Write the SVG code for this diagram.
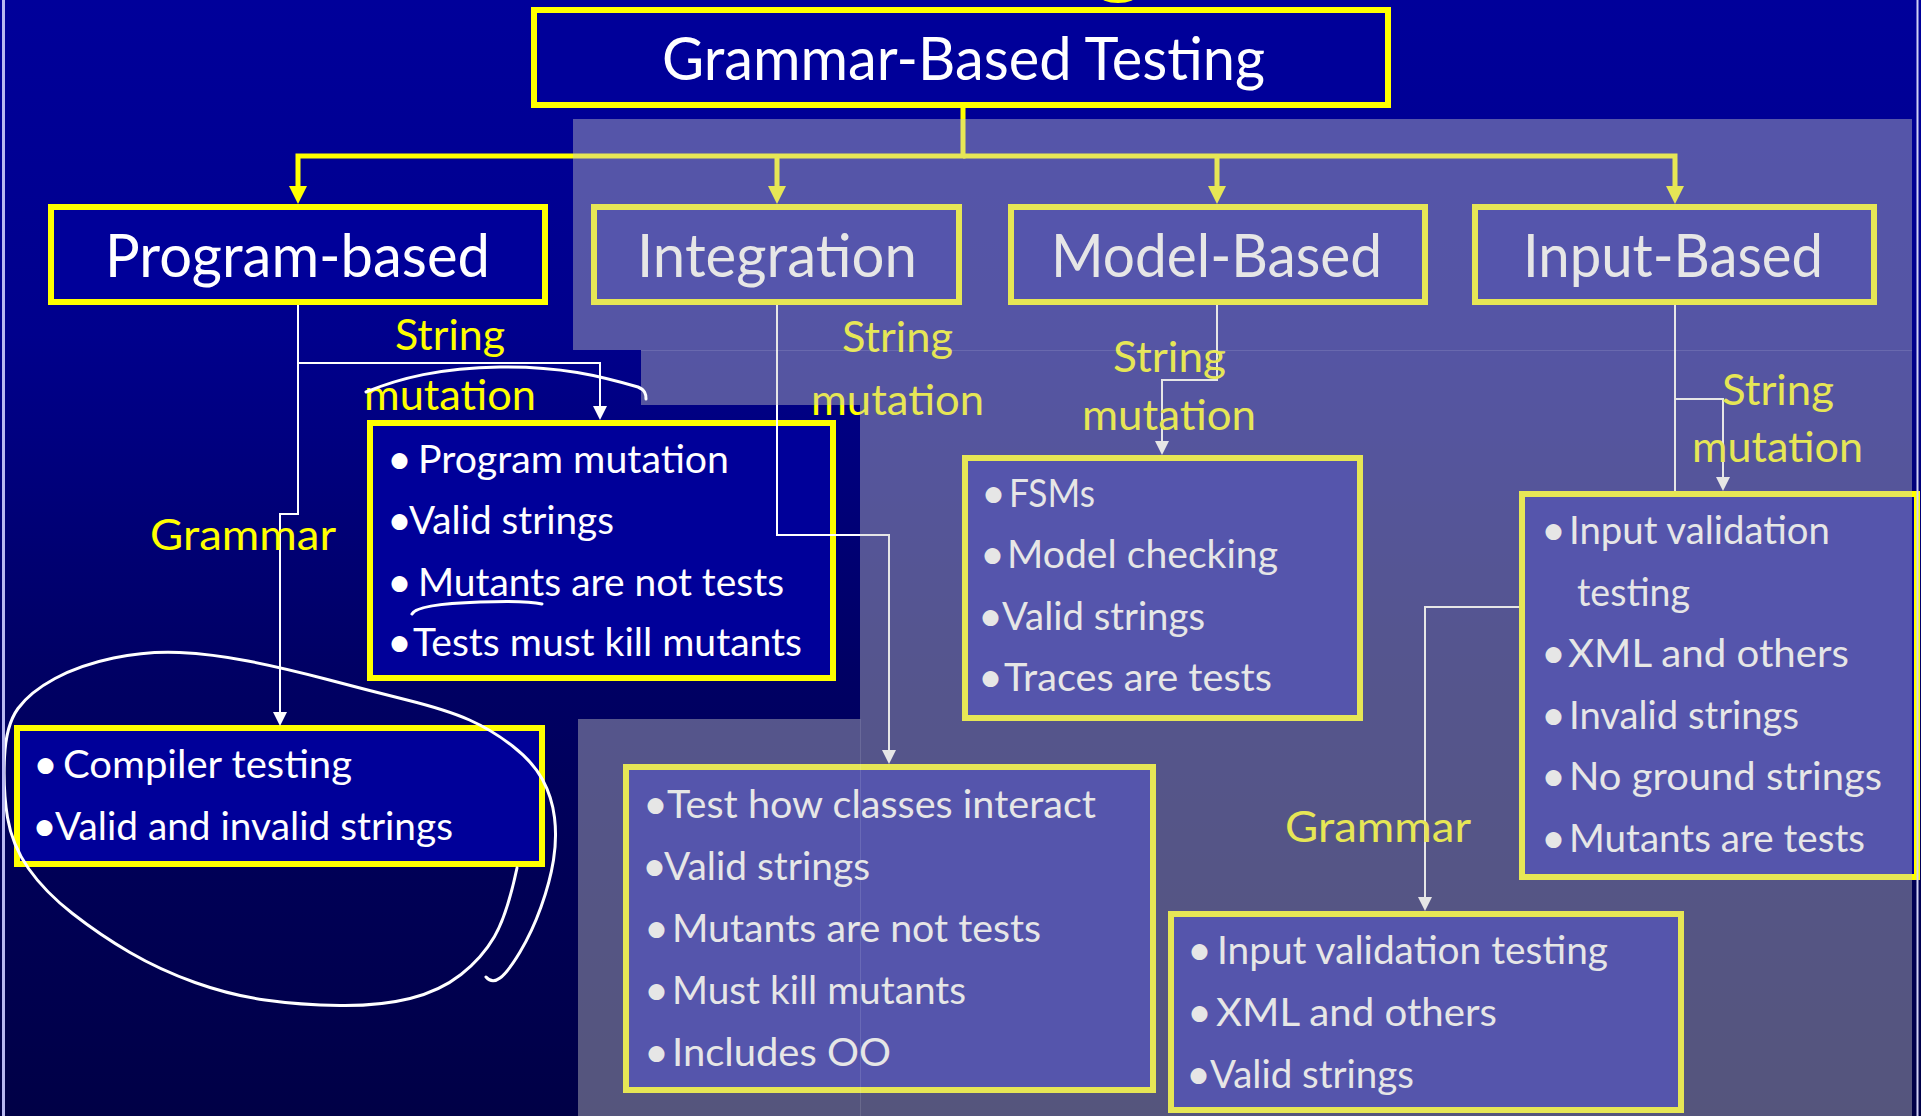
<svg xmlns="http://www.w3.org/2000/svg" width="1921" height="1116" viewBox="0 0 1921 1116">
<defs>
<linearGradient id="bgGrad" x1="0" y1="0" x2="0" y2="1">
<stop offset="0" stop-color="#00009A"/>
<stop offset="0.3" stop-color="#00008C"/>
<stop offset="0.6" stop-color="#000064"/>
<stop offset="1" stop-color="#000046"/>
</linearGradient>
<marker id="ya" viewBox="0 0 18 18" markerWidth="18" markerHeight="18" refX="8" refY="9" orient="auto" markerUnits="userSpaceOnUse">
<path d="M0,0 L18,9 L0,18 z" fill="#FFFF00"/>
</marker>
<marker id="wa" viewBox="0 0 14 14" markerWidth="14" markerHeight="14" refX="6" refY="7" orient="auto" markerUnits="userSpaceOnUse">
<path d="M0,0 L14,7 L0,14 z" fill="#FFFFFF"/>
</marker>
</defs>
<style>
text{font-family:Lato,"Open Sans","Noto Sans",sans-serif;}
.box{fill:#000099;stroke:#FFFF00;stroke-width:6;}
.head{font-size:60px;fill:#FFFFFF;}
.tb{font-size:39px;fill:#FFFFFF;}
.bul{font-size:43px;}
.lbl{font-size:42px;fill:#FFFF00;}
.wire{stroke:#FFFFFF;stroke-width:2;fill:none;}
.ywire{stroke:#FFFF00;stroke-width:5;fill:none;}
.ink{stroke:#FFFFFF;stroke-width:3;fill:none;stroke-linecap:round;stroke-linejoin:round;}
</style>

<rect x="0" y="0" width="1921" height="1116" fill="url(#bgGrad)"/>
<ellipse cx="1118" cy="-5" rx="19" ry="8" fill="#FFFF00"/>

<g id="node-title">
<rect class="box" x="534" y="10" width="854" height="95"/>
<text class="head" x="662" y="80" textLength="603" lengthAdjust="spacingAndGlyphs">Grammar-Based Testing</text>
</g>

<g id="node-program-based">
<rect class="box" x="51" y="207" width="494" height="95"/>
<text class="head" x="105" y="277" textLength="385" lengthAdjust="spacingAndGlyphs">Program-based</text>
</g>

<g id="node-integration">
<rect class="box" x="594" y="207" width="365" height="95"/>
<text class="head" x="637" y="277" textLength="280" lengthAdjust="spacingAndGlyphs">Integration</text>
</g>

<g id="node-model-based">
<rect class="box" x="1011" y="207" width="414" height="95"/>
<text class="head" x="1051" y="277" textLength="331" lengthAdjust="spacingAndGlyphs">Model-Based</text>
</g>

<g id="node-input-based">
<rect class="box" x="1475" y="207" width="399" height="95"/>
<text class="head" x="1523" y="277" textLength="300" lengthAdjust="spacingAndGlyphs">Input-Based</text>
</g>

<g id="node-program-list">
<rect class="box" x="370" y="423" width="463" height="255"/>
<text class="tb" y="473"><tspan class="bul" x="387" dy="1">•</tspan><tspan x="418" dy="-1" textLength="311" lengthAdjust="spacingAndGlyphs">Program mutation</tspan></text>
<text class="tb" y="534"><tspan class="bul" x="387" dy="1">•</tspan><tspan x="409" dy="-1" textLength="205" lengthAdjust="spacingAndGlyphs">Valid strings</tspan></text>
<text class="tb" y="596"><tspan class="bul" x="387" dy="1">•</tspan><tspan x="418" dy="-1" textLength="366" lengthAdjust="spacingAndGlyphs">Mutants are not tests</tspan></text>
<text class="tb" y="656"><tspan class="bul" x="387" dy="1">•</tspan><tspan x="413" dy="-1" textLength="389" lengthAdjust="spacingAndGlyphs">Tests must kill mutants</tspan></text>
</g>

<g id="node-compiler-list">
<rect class="box" x="17" y="728" width="525" height="136"/>
<text class="tb" y="778"><tspan class="bul" x="33" dy="1">•</tspan><tspan x="63" dy="-1" textLength="289" lengthAdjust="spacingAndGlyphs">Compiler testing</tspan></text>
<text class="tb" y="840"><tspan class="bul" x="32" dy="1">•</tspan><tspan x="55" dy="-1" textLength="398" lengthAdjust="spacingAndGlyphs">Valid and invalid strings</tspan></text>
</g>

<g id="node-integration-list">
<rect class="box" x="626" y="767" width="527" height="323"/>
<text class="tb" y="818"><tspan class="bul" x="643" dy="1">•</tspan><tspan x="667" dy="-1" textLength="429" lengthAdjust="spacingAndGlyphs">Test how classes interact</tspan></text>
<text class="tb" y="880"><tspan class="bul" x="642" dy="1">•</tspan><tspan x="664" dy="-1" textLength="206" lengthAdjust="spacingAndGlyphs">Valid strings</tspan></text>
<text class="tb" y="942"><tspan class="bul" x="644" dy="1">•</tspan><tspan x="672" dy="-1" textLength="369" lengthAdjust="spacingAndGlyphs">Mutants are not tests</tspan></text>
<text class="tb" y="1004"><tspan class="bul" x="644" dy="1">•</tspan><tspan x="672" dy="-1" textLength="294" lengthAdjust="spacingAndGlyphs">Must kill mutants</tspan></text>
<text class="tb" y="1066"><tspan class="bul" x="644" dy="1">•</tspan><tspan x="672" dy="-1" textLength="219" lengthAdjust="spacingAndGlyphs">Includes OO</tspan></text>
</g>

<g id="node-model-list">
<rect class="box" x="965" y="458" width="395" height="260"/>
<text class="tb" y="507"><tspan class="bul" x="981" dy="1">•</tspan><tspan x="1009" dy="-1" textLength="86" lengthAdjust="spacingAndGlyphs">FSMs</tspan></text>
<text class="tb" y="568"><tspan class="bul" x="980" dy="1">•</tspan><tspan x="1007" dy="-1" textLength="271" lengthAdjust="spacingAndGlyphs">Model checking</tspan></text>
<text class="tb" y="630"><tspan class="bul" x="978" dy="1">•</tspan><tspan x="1002" dy="-1" textLength="203" lengthAdjust="spacingAndGlyphs">Valid strings</tspan></text>
<text class="tb" y="691"><tspan class="bul" x="978" dy="1">•</tspan><tspan x="1004" dy="-1" textLength="268" lengthAdjust="spacingAndGlyphs">Traces are tests</tspan></text>
</g>

<g id="node-input-list">
<rect class="box" x="1522" y="494" width="395" height="383"/>
<text class="tb" y="544"><tspan class="bul" x="1541" dy="1">•</tspan><tspan x="1569" dy="-1" textLength="261" lengthAdjust="spacingAndGlyphs">Input validation</tspan></text>
<text class="tb" y="606"><tspan x="1577" textLength="113" lengthAdjust="spacingAndGlyphs">testing</tspan></text>
<text class="tb" y="667"><tspan class="bul" x="1541" dy="1">•</tspan><tspan x="1568" dy="-1" textLength="281" lengthAdjust="spacingAndGlyphs">XML and others</tspan></text>
<text class="tb" y="729"><tspan class="bul" x="1541" dy="1">•</tspan><tspan x="1569" dy="-1" textLength="230" lengthAdjust="spacingAndGlyphs">Invalid strings</tspan></text>
<text class="tb" y="790"><tspan class="bul" x="1541" dy="1">•</tspan><tspan x="1569" dy="-1" textLength="313" lengthAdjust="spacingAndGlyphs">No ground strings</tspan></text>
<text class="tb" y="852"><tspan class="bul" x="1541" dy="1">•</tspan><tspan x="1569" dy="-1" textLength="296" lengthAdjust="spacingAndGlyphs">Mutants are tests</tspan></text>
</g>

<g id="node-input-grammar-list">
<rect class="box" x="1171" y="914" width="510" height="196"/>
<text class="tb" y="964"><tspan class="bul" x="1187" dy="1">•</tspan><tspan x="1217" dy="-1" textLength="391" lengthAdjust="spacingAndGlyphs">Input validation testing</tspan></text>
<text class="tb" y="1026"><tspan class="bul" x="1187" dy="1">•</tspan><tspan x="1216" dy="-1" textLength="281" lengthAdjust="spacingAndGlyphs">XML and others</tspan></text>
<text class="tb" y="1088"><tspan class="bul" x="1186" dy="1">•</tspan><tspan x="1210" dy="-1" textLength="204" lengthAdjust="spacingAndGlyphs">Valid strings</tspan></text>
</g>

<g id="connectors">
<path class="ywire" d="M963,108 V156 H298 V194" marker-end="url(#ya)"/>
<path class="ywire" d="M963,156 H1675 V194" marker-end="url(#ya)"/>
<path class="ywire" d="M777,156 V194" marker-end="url(#ya)"/>
<path class="ywire" d="M1217,156 V194" marker-end="url(#ya)"/>
<path class="wire" d="M298,305 V514 H280 V718" marker-end="url(#wa)"/>
<path class="wire" d="M298,363 H600 V412" marker-end="url(#wa)"/>
<path class="wire" d="M777,305 V535 H889 V756" marker-end="url(#wa)"/>
<path class="wire" d="M1217,305 V380 H1162 V447" marker-end="url(#wa)"/>
<path class="wire" d="M1675,305 V491"/>
<path class="wire" d="M1675,399 H1723 V483" marker-end="url(#wa)"/>
<path class="wire" d="M1519,607 H1425 V903" marker-end="url(#wa)"/>
<text class="lbl" x="395" y="350" textLength="110" lengthAdjust="spacingAndGlyphs">String</text>
<text class="lbl" x="364" y="410" textLength="172" lengthAdjust="spacingAndGlyphs">mutation</text>
<text class="lbl" x="150" y="550" textLength="186" lengthAdjust="spacingAndGlyphs">Grammar</text>
<text class="lbl" x="842" y="352" textLength="111" lengthAdjust="spacingAndGlyphs">String</text>
<text class="lbl" x="811" y="415" textLength="173" lengthAdjust="spacingAndGlyphs">mutation</text>
<text class="lbl" x="1113" y="372" textLength="113" lengthAdjust="spacingAndGlyphs">String</text>
<text class="lbl" x="1082" y="430" textLength="174" lengthAdjust="spacingAndGlyphs">mutation</text>
<text class="lbl" x="1722" y="405" textLength="112" lengthAdjust="spacingAndGlyphs">String</text>
<text class="lbl" x="1692" y="462" textLength="171" lengthAdjust="spacingAndGlyphs">mutation</text>
<text class="lbl" x="1285" y="842" textLength="186" lengthAdjust="spacingAndGlyphs">Grammar</text>
</g>

<polygon points="573,119 1912,119 1912,1116 578,1116 578,719 860,719 860,405 641,405 641,350 573,350" fill="#C5C5C5" fill-opacity="0.43"/>
<path d="M641,350.5 H1912 M860.5,719 V1116" stroke="#FFFFFF" stroke-opacity="0.12" stroke-width="1" fill="none"/>

<path class="ink" d="M517,868 Q507,915 494.5,936.5 Q482,958 461,974.5 Q440,991 410,998.5 Q380,1006 340,1005.5 Q300,1005 265,1000 Q230,995 195,982.5 Q160,970 130,952.5 Q100,935 72.5,913.5 Q45,892 28.5,868.5 Q12,845 7.5,817.5 Q3,790 4.5,757.5 Q6,725 18,708.5 Q30,692 55,678.5 Q80,665 113.5,658 Q147,651 179.5,652.5 Q212,654 248,661 Q284,668 325.5,679 Q367,690 407,700 Q447,710 469.5,720 Q492,730 512.5,746 Q533,762 542.5,779.5 Q552,797 554.5,817.5 Q557,838 553.5,860 Q550,882 541,907 Q532,932 520,952 Q508,972 500,978 Q492,984 486,977"/>
<path class="ink" d="M412,614 C416,606 450,603 480,602 C505,601 530,601 542,604"/>
<path class="ink" d="M366,392 C400,378 440,368 500,367 C560,366 600,376 638,387 C645,390 646,394 646,399"/>

<rect x="2" y="0" width="3" height="1116" fill="#B8B8F0"/>
<rect x="1916.5" y="0" width="2" height="1116" fill="#D0D0F4"/>
</svg>
